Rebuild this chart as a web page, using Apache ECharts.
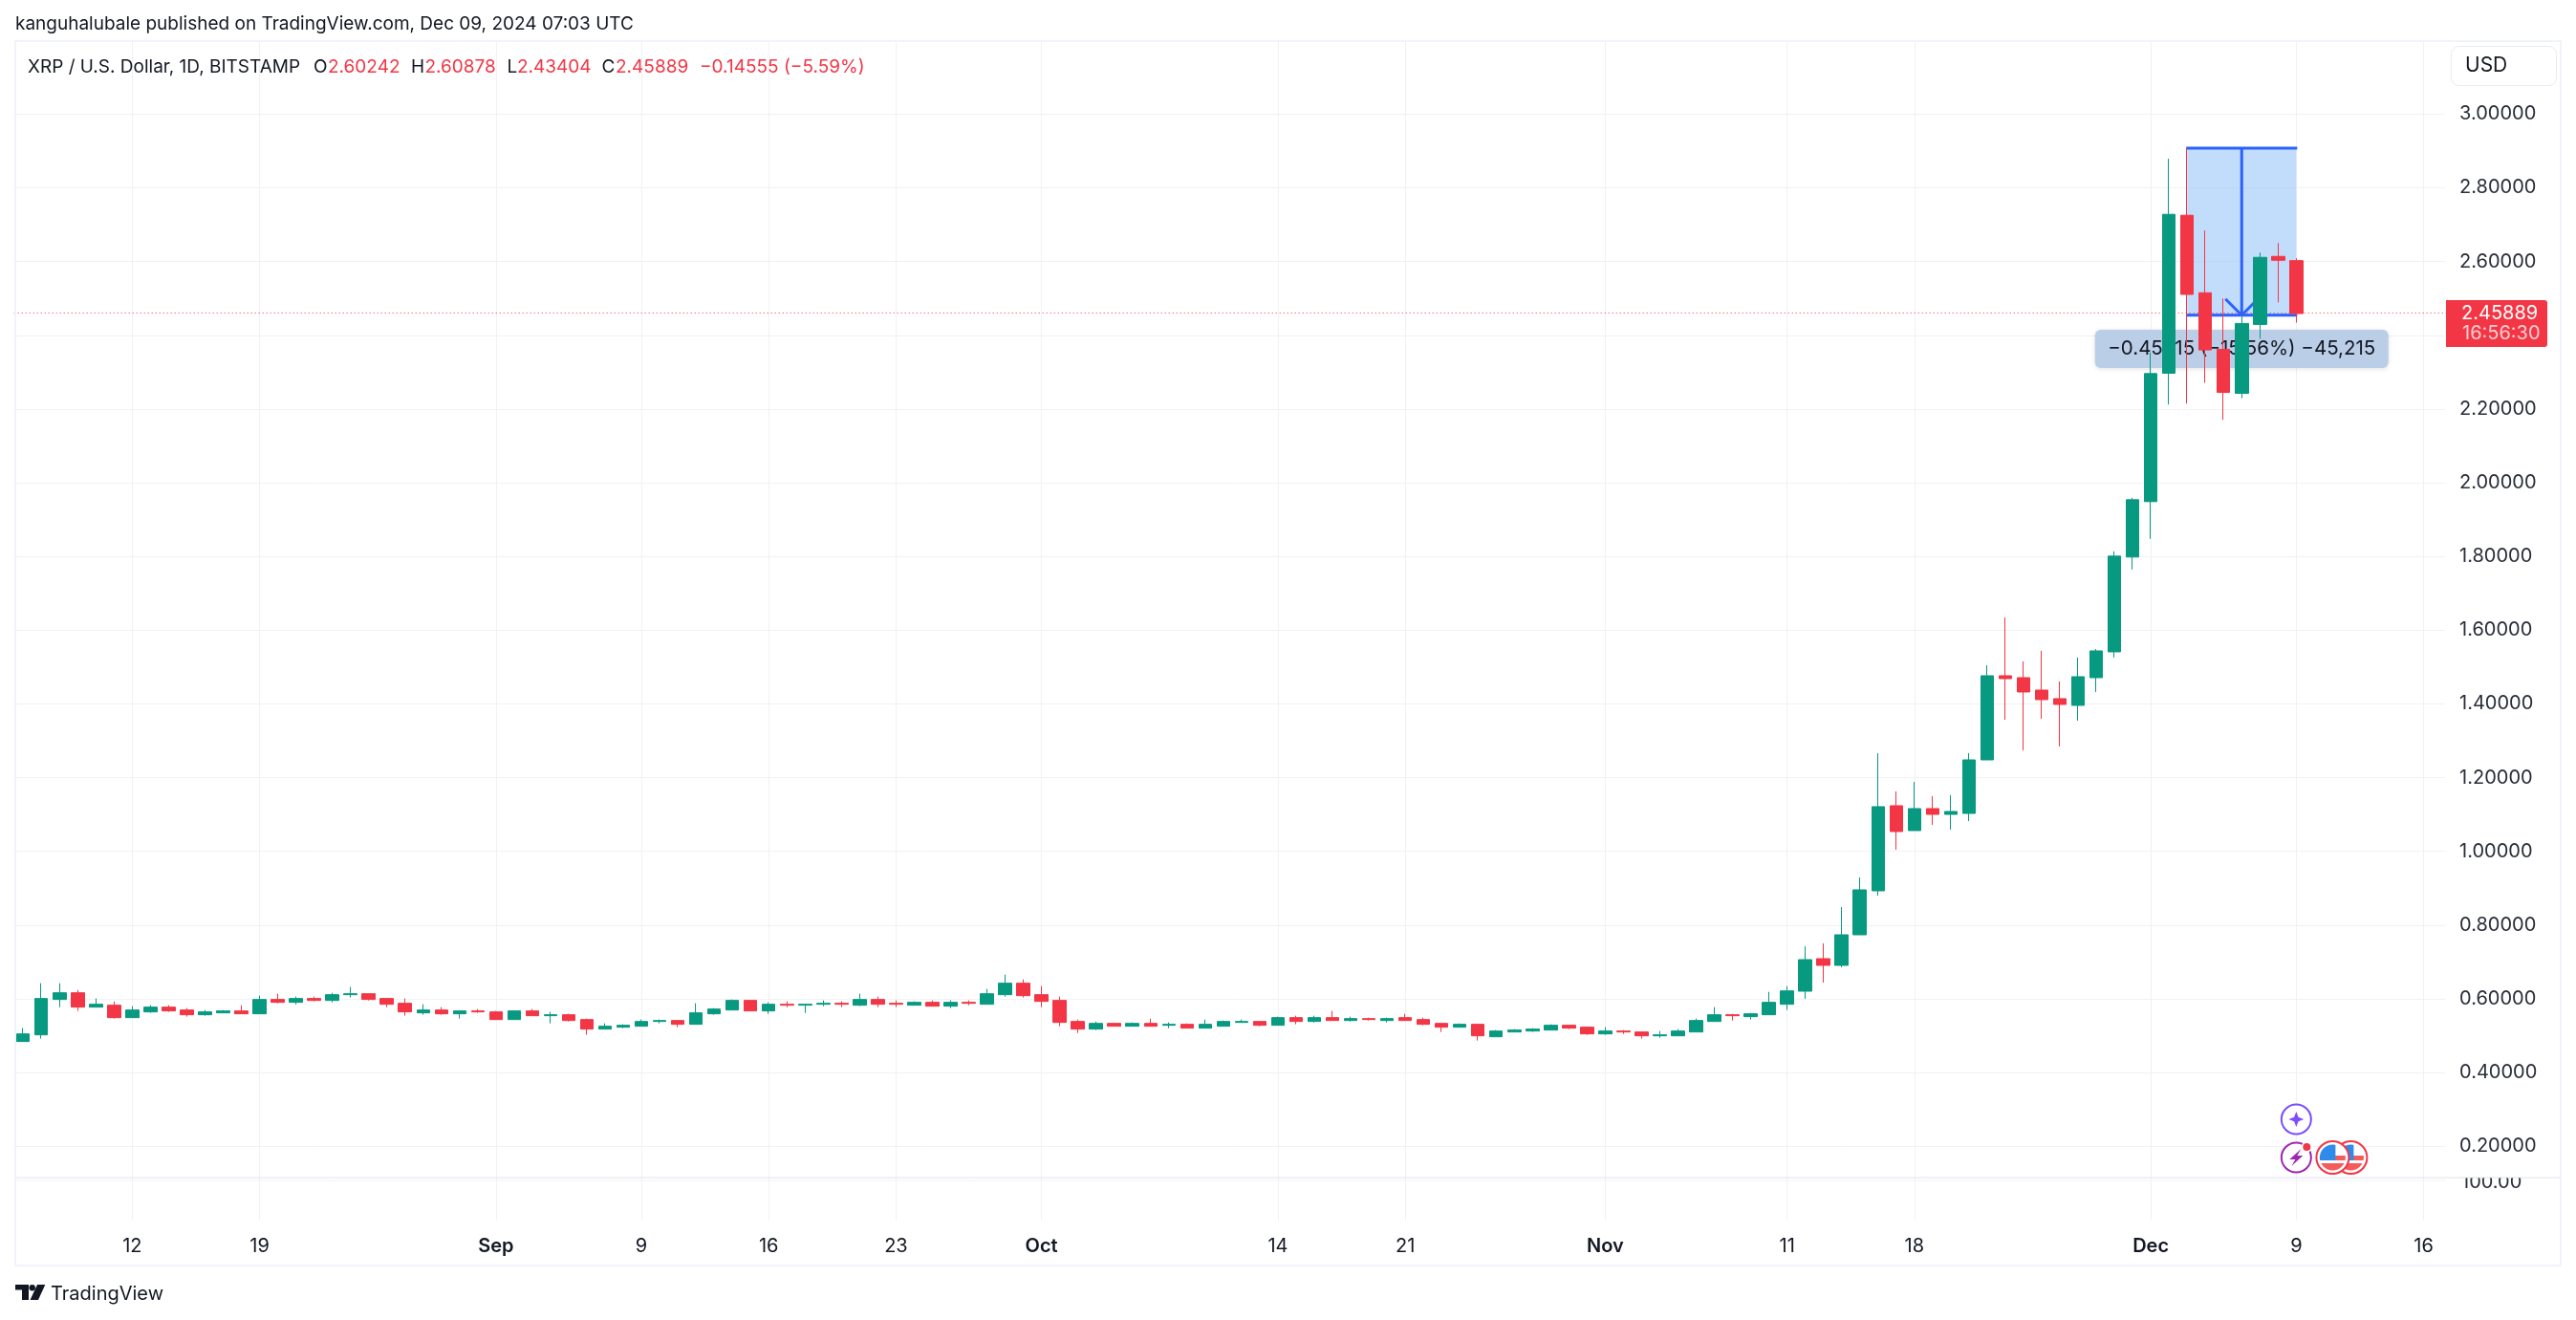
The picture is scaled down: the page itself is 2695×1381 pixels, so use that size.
<!DOCTYPE html>
<html>
<head>
<meta charset="utf-8">
<style>html,body{margin:0;padding:0;background:#fff}#c{width:2695px;height:1381px}</style>
<script src="https://cdn.jsdelivr.net/npm/echarts@6/dist/echarts.min.js"></script>
</head>
<body>
<div id="c"></div>
<script>
const categories = [
'08-06','08-07','08-08','08-09','08-10','08-11','08-12','08-13','08-14','08-15','08-16','08-17','08-18','08-19','08-20','08-21','08-22','08-23','08-24','08-25','08-26','08-27','08-28','08-29','08-30','08-31',
'09-01','09-02','09-03','09-04','09-05','09-06','09-07','09-08','09-09','09-10','09-11','09-12','09-13','09-14','09-15','09-16','09-17','09-18','09-19','09-20','09-21','09-22','09-23','09-24','09-25','09-26','09-27','09-28','09-29','09-30',
'10-01','10-02','10-03','10-04','10-05','10-06','10-07','10-08','10-09','10-10','10-11','10-12','10-13','10-14','10-15','10-16','10-17','10-18','10-19','10-20','10-21','10-22','10-23','10-24','10-25','10-26','10-27','10-28','10-29','10-30','10-31',
'11-01','11-02','11-03','11-04','11-05','11-06','11-07','11-08','11-09','11-10','11-11','11-12','11-13','11-14','11-15','11-16','11-17','11-18','11-19','11-20','11-21','11-22','11-23','11-24','11-25','11-26','11-27','11-28','11-29','11-30',
'12-01','12-02','12-03','12-04','12-05','12-06','12-07','12-08','12-09','12-10','12-11','12-12','12-13','12-14','12-15','12-16','12-17'];

const opens = [
.4842,.5023,.5983,.6164,.5775,.5827,.5490,.5646,.5775,.5697,.5568,.5620,.5672,.5594,.5983,.5905,.6009,.5957,.6112,.6138,.6009,.5879,.5620,.5697,.5594,.5672,
.5646,.5438,.5672,.5542,.5568,.5438,.5179,.5231,.5257,.5386,.5412,.5309,.5594,.5697,.5957,.5672,.5853,.5827,.5853,.5879,.5827,.5983,.5879,.5827,.5905,.5801,.5905,.5853,.6112,.6424,
.6112,.5957,.5386,.5179,.5334,.5257,.5334,.5283,.5309,.5205,.5257,.5360,.5386,.5283,.5490,.5386,.5490,.5412,.5464,.5412,.5490,.5438,.5334,.5231,.5309,.4971,.5101,.5127,.5153,.5283,.5231,
.5049,.5127,.5101,.4997,.4997,.5101,.5386,.5568,.5516,.5568,.5853,.6207,.7089,.6908,.7737,.8930,1.1238,1.0564,1.1160,1.1004,1.1030,1.2482,1.4764,1.4712,1.4375,1.4142,1.3960,1.4712,1.5412,1.7983,
1.9487,2.2970,2.7255,2.5152,2.3619,2.2424,2.4294,2.6139,2.60242];
const closes = [
.5049,.6009,.6164,.5775,.5853,.5490,.5697,.5775,.5672,.5568,.5646,.5672,.5594,.5983,.5905,.6009,.5957,.6112,.6138,.5983,.5853,.5646,.5697,.5594,.5672,.5646,
.5438,.5672,.5542,.5568,.5412,.5179,.5257,.5283,.5386,.5412,.5309,.5620,.5723,.5957,.5672,.5853,.5827,.5853,.5879,.5853,.5983,.5853,.5853,.5905,.5801,.5905,.5879,.6138,.6424,.6086,
.5931,.5360,.5179,.5334,.5257,.5334,.5257,.5309,.5205,.5309,.5386,.5386,.5283,.5490,.5386,.5490,.5412,.5464,.5438,.5464,.5412,.5309,.5231,.5309,.4997,.5127,.5153,.5179,.5283,.5205,.5049,
.5127,.5101,.4997,.5023,.5127,.5412,.5568,.5542,.5594,.5905,.6216,.7063,.6908,.7737,.8956,1.1212,1.0538,1.1160,1.1004,1.1082,1.2482,1.4764,1.4686,1.4323,1.4116,1.3986,1.4738,1.5438,1.8009,1.9538,
2.2961,2.7281,2.5108,2.3602,2.2450,2.4320,2.6113,2.6035,2.45889];
const lows = [
.4842,.4920,.5775,.5672,.5775,.5464,.5490,.5620,.5646,.5516,.5542,.5620,.5594,.5594,.5879,.5853,.5931,.5905,.6035,.5957,.5775,.5542,.5568,.5568,.5464,.5620,
.5438,.5438,.5542,.5334,.5386,.5023,.5179,.5205,.5257,.5334,.5231,.5309,.5568,.5697,.5672,.5594,.5775,.5620,.5801,.5775,.5801,.5775,.5775,.5827,.5801,.5749,.5827,.5853,.6061,.6035,
.5775,.5257,.5075,.5153,.5257,.5257,.5257,.5205,.5205,.5205,.5257,.5360,.5257,.5283,.5309,.5360,.5412,.5386,.5412,.5360,.5412,.5283,.5101,.5231,.4868,.4971,.5101,.5101,.5153,.5179,.5023,
.5023,.5049,.4920,.4946,.4997,.5101,.5386,.5412,.5438,.5568,.5697,.6000,.6441,.6856,.7737,.8800,1.0045,1.0564,1.0719,1.0589,1.0823,1.2482,1.3571,1.2742,1.3597,1.2845,1.3545,1.4323,1.5257,1.7646,
1.8475,2.2121,2.2147,2.2710,2.1706,2.2294,2.3905,2.4892,2.43404];
const highs = [
.5205,.6424,.6424,.6242,.6009,.5931,.5801,.5827,.5827,.5749,.5697,.5697,.5827,.6086,.6138,.6061,.6061,.6164,.6320,.6138,.6009,.6009,.5853,.5775,.5672,.5723,
.5672,.5672,.5723,.5646,.5594,.5464,.5334,.5309,.5438,.5438,.5412,.5879,.5749,.5983,.5957,.5905,.5931,.5853,.5957,.5931,.6138,.6061,.5957,.5931,.5957,.5957,.5957,.6268,.6657,.6527,
.6346,.6061,.5438,.5386,.5334,.5360,.5464,.5360,.5334,.5438,.5412,.5438,.5386,.5516,.5542,.5542,.5672,.5516,.5490,.5490,.5594,.5490,.5334,.5334,.5309,.5153,.5179,.5205,.5309,.5283,.5231,
.5231,.5153,.5101,.5127,.5179,.5464,.5775,.5594,.5620,.6190,.6346,.7426,.7504,.8489,.9293,1.2664,1.1627,1.1886,1.1497,1.1523,1.2664,1.5049,1.6346,1.5153,1.5438,1.4608,1.5257,1.5490,1.8138,1.9590,
2.3532,2.8788,2.9074,2.6840,2.4996,2.4545,2.6242,2.6502,2.60878];

const xTickLabels = {'08-12':'12','08-19':'19','09-01':'Sep','09-09':'9','09-16':'16','09-23':'23','10-01':'Oct','10-14':'14','10-21':'21','11-01':'Nov','11-11':'11','11-18':'18','12-01':'Dec','12-09':'9','12-16':'16'};
const monthLabels = ['Sep','Oct','Nov','Dec'];

const lastPrice = 2.45889;
const measureFrom = '12-03', measureTo = '12-09', measureMid = '12-06';
const measureTop = 2.9074, measureBottom = 2.4546, measureLabelPrice = 2.363;
const measureLabel = '\u22120.45215 (\u221215.56%) \u221245,215';
const eventDates = ['12-09','12-09','12-12','12-11'];
const eventPrices = [.2733,.1696,.1696,.1696];
const eventKinds = ['ai','spark','flag','flag'];

const GREEN = '#089981', RED = '#F23645', INK = '#131722', FONT = 'Inter';
const isTick = (i, v) => xTickLabels[v] !== undefined;

function renderMeasure(params, api) {
  const a = api.coord([categories.indexOf(measureFrom), measureTop]);
  const b = api.coord([categories.indexOf(measureTo), measureBottom]);
  const mx = api.coord([categories.indexOf(measureMid), measureTop])[0];
  const ly = api.coord([0, measureLabelPrice])[1];
  const line = (x1, y1, x2, y2) => ({type:'line', shape:{x1,y1,x2,y2}, style:{stroke:'#2962FF', lineWidth:3}});
  return {type:'group', children:[
    {type:'rect', shape:{x:a[0], y:a[1], width:b[0]-a[0], height:b[1]-a[1]}, style:{fill:'rgba(144,191,249,0.55)'}},
    line(a[0]-1, a[1], b[0]+1, a[1]),
    line(a[0]-1, b[1], b[0]+1, b[1]),
    line(mx, a[1]-1, mx, b[1]),
    line(mx-17, b[1]-17, mx, b[1]),
    line(mx+17, b[1]-17, mx, b[1]),
    {type:'rect', shape:{x:mx-153.5, y:ly-20, width:307, height:40, r:6},
      style:{fill:'#BBCEE7', shadowBlur:5, shadowColor:'rgba(0,0,0,0.12)', shadowOffsetY:1}},
    {type:'text', style:{text:measureLabel, x:mx, y:ly, align:'center', verticalAlign:'middle', font:'20.5px '+FONT, fill:INK}}
  ]};
}

function renderEvent(params, api) {
  const p = api.coord([api.value(0), api.value(1)]);
  const cx = p[0], cy = p[1], kind = eventKinds[params.dataIndex];
  if (kind === 'ai') {
    const s = 8, t = 2.2;
    return {type:'group', children:[
      {type:'circle', shape:{cx,cy,r:15.5}, style:{fill:'#fff', stroke:'#7B4DFF', lineWidth:2}},
      {type:'polygon', shape:{points:[[cx,cy-s],[cx+t,cy-t],[cx+s,cy],[cx+t,cy+t],[cx,cy+s],[cx-t,cy+t],[cx-s,cy],[cx-t,cy-t]]}, style:{fill:'#7B4DFF'}}
    ]};
  }
  if (kind === 'spark') {
    return {type:'group', children:[
      {type:'circle', shape:{cx,cy,r:15.5}, style:{fill:'#fff', stroke:'#9C27B0', lineWidth:2}},
      {type:'polygon', shape:{points:[[cx+5,cy-9],[cx-7,cy+2],[cx-1,cy+2],[cx-5,cy+9],[cx+7,cy-2],[cx+1,cy-2]]}, style:{fill:'#9C27B0'}},
      {type:'circle', shape:{cx:cx+11,cy:cy-11,r:5.5}, style:{fill:'#fff'}},
      {type:'circle', shape:{cx:cx+11,cy:cy-11,r:4}, style:{fill:RED}}
    ]};
  }
  return {type:'group', children:[
    {type:'circle', shape:{cx,cy,r:17}, style:{fill:'#fff', stroke:RED, lineWidth:2}},
    {type:'group', clipPath:{type:'circle', shape:{cx,cy,r:13.5}}, children:[
      {type:'rect', shape:{x:cx-14,y:cy-14,width:28,height:28}, style:{fill:'#FFFFFF'}},
      {type:'rect', shape:{x:cx-14,y:cy-2,width:28,height:5}, style:{fill:'#F45B5B'}},
      {type:'rect', shape:{x:cx-14,y:cy+6,width:28,height:8}, style:{fill:'#F45B5B'}},
      {type:'rect', shape:{x:cx-14,y:cy-14,width:17,height:17}, style:{fill:'#2F8BEA'}}
    ]}
  ]};
}

function renderPriceBox(params, api) {
  const y = api.coord([0, lastPrice])[1];
  return {type:'group', children:[
    {type:'rect', shape:{x:2559, y:y-14, width:106, height:49, r:[0,3,3,0]}, style:{fill:RED}},
    {type:'text', style:{text:lastPrice.toFixed(5), x:2575, y:y, verticalAlign:'middle', font:'20px '+FONT, fill:'#fff'}},
    {type:'text', style:{text:'16:56:30', x:2576, y:y+21, verticalAlign:'middle', font:'20px '+FONT, fill:'rgba(255,255,255,0.75)'}}
  ]};
}

const txt = (x, y, text, extra) => ({type:'text', z:60, x, y, style:Object.assign({text, font:'19px '+FONT, fill:INK, verticalAlign:'middle'}, extra||{})});

const chart = echarts.init(document.getElementById('c'), null, {renderer:'canvas', width:2695, height:1381});
chart.setOption({
  animation:false,
  backgroundColor:'#fff',
  grid:{left:14.7, top:42.2, width:2549.35, height:1234.2, containLabel:false},
  xAxis:{
    type:'category', data:categories, boundaryGap:true,
    axisLine:{show:false}, axisTick:{show:false},
    splitLine:{show:true, alignWithLabel:true, interval:isTick, lineStyle:{color:'#F0F1F4', width:1}},
    axisLabel:{
      interval:isTick, hideOverlap:false, margin:18, fontFamily:FONT, fontSize:20, color:INK,
      formatter:(v)=>{const t=xTickLabels[v]||''; return monthLabels.includes(t)?'{m|'+t+'}':t;},
      rich:{m:{fontFamily:FONT, fontSize:20, fontWeight:600, color:INK}}
    }
  },
  yAxis:{
    type:'value', position:'right', min:0, max:3.2, interval:0.2,
    axisLine:{show:false}, axisTick:{show:false},
    splitLine:{show:true, showMinLine:false, showMaxLine:false, lineStyle:{color:'#F0F1F4', width:1}},
    axisLabel:{show:true, showMinLabel:false, showMaxLabel:false, margin:9, fontFamily:FONT, fontSize:20, color:'#2A2E39', formatter:(v)=>v.toFixed(5)}
  },
  tooltip:{show:false},
  series:[
    {type:'custom', name:'measure', z:3, silent:true, coordinateSystem:'cartesian2d', data:[[measureFrom, measureTop]], renderItem:renderMeasure},
    {type:'candlestick', name:'XRP/USD', z:5, barWidth:14, silent:true,
      data:opens.map((o,i)=>[o,closes[i],lows[i],highs[i]]),
      itemStyle:{color:GREEN, color0:RED, borderColor:GREEN, borderColor0:RED, borderWidth:1},
      markLine:{silent:true, symbol:'none', animation:false, label:{show:false},
        lineStyle:{color:RED, width:1, type:[1,3], opacity:1}, data:[{yAxis:lastPrice}]}
    },
    {type:'custom', name:'events', z:6, silent:true, coordinateSystem:'cartesian2d',
      data:eventDates.map((d,i)=>[d,eventPrices[i]]), renderItem:renderEvent},
    {type:'custom', name:'priceBox', z:7, silent:true, coordinateSystem:'cartesian2d', data:[['12-09',lastPrice]], renderItem:renderPriceBox}
  ],
  graphic:[
    {type:'rect', z:1, silent:true, shape:{x:2558,y:43,width:7,height:1234}, style:{fill:'#fff'}},
    {type:'line', z:1, silent:true, shape:{x1:16,y1:1235,x2:2558,y2:1235}, style:{stroke:'#F0F1F4',lineWidth:1}},
    {type:'text', z:1, x:2575, y:1236.5, style:{text:'100.00', font:'20px '+FONT, fill:'#2A2E39', verticalAlign:'middle'}},
    {type:'rect', z:2, silent:true, shape:{x:2565,y:1222,width:112,height:10}, style:{fill:'#fff'}},
    {type:'line', z:50, silent:true, shape:{x1:16,y1:1232,x2:2678,y2:1232}, style:{stroke:'#E0E3EB',lineWidth:1}},
    {type:'rect', z:50, silent:true, shape:{x:16,y:43,width:2663,height:1281}, style:{fill:'none',stroke:'#F0F3FA',lineWidth:2}},
    {type:'rect', z:60, silent:true, shape:{x:2564.5,y:48.5,width:110,height:41,r:8}, style:{fill:'#fff',stroke:'#E9EBF2',lineWidth:1}},
    txt(2579,69,'USD',{font:'21px '+FONT}),
    txt(16,25,'kanguhalubale published on TradingView.com, Dec 09, 2024 07:03 UTC'),
    txt(29,70,'XRP / U.S. Dollar, 1D, BITSTAMP'),
    txt(328,70,'O'), txt(343,70,'2.60242',{fill:RED}),
    txt(430,70,'H'), txt(444.5,70,'2.60878',{fill:RED}),
    txt(530.5,70,'L'), txt(541,70,'2.43404',{fill:RED}),
    txt(629.5,70,'C'), txt(644,70,'2.45889',{fill:RED}),
    txt(732,70,'\u22120.14555 (\u22125.59%)',{fill:RED}),
    txt(53,1354,'TradingView',{font:'20px '+FONT}),
    {type:'polygon', z:60, silent:true, shape:{points:[[16,1344],[30,1344],[30,1360],[23,1360],[23,1349.5],[16,1349.5]]}, style:{fill:INK}},
    {type:'circle', z:60, silent:true, shape:{cx:33.7,cy:1347.2,r:3.2}, style:{fill:INK}},
    {type:'polygon', z:60, silent:true, shape:{points:[[39,1344],[47.3,1344],[40,1360],[31.5,1360]]}, style:{fill:INK}}
  ]
});
</script>
</body>
</html>
